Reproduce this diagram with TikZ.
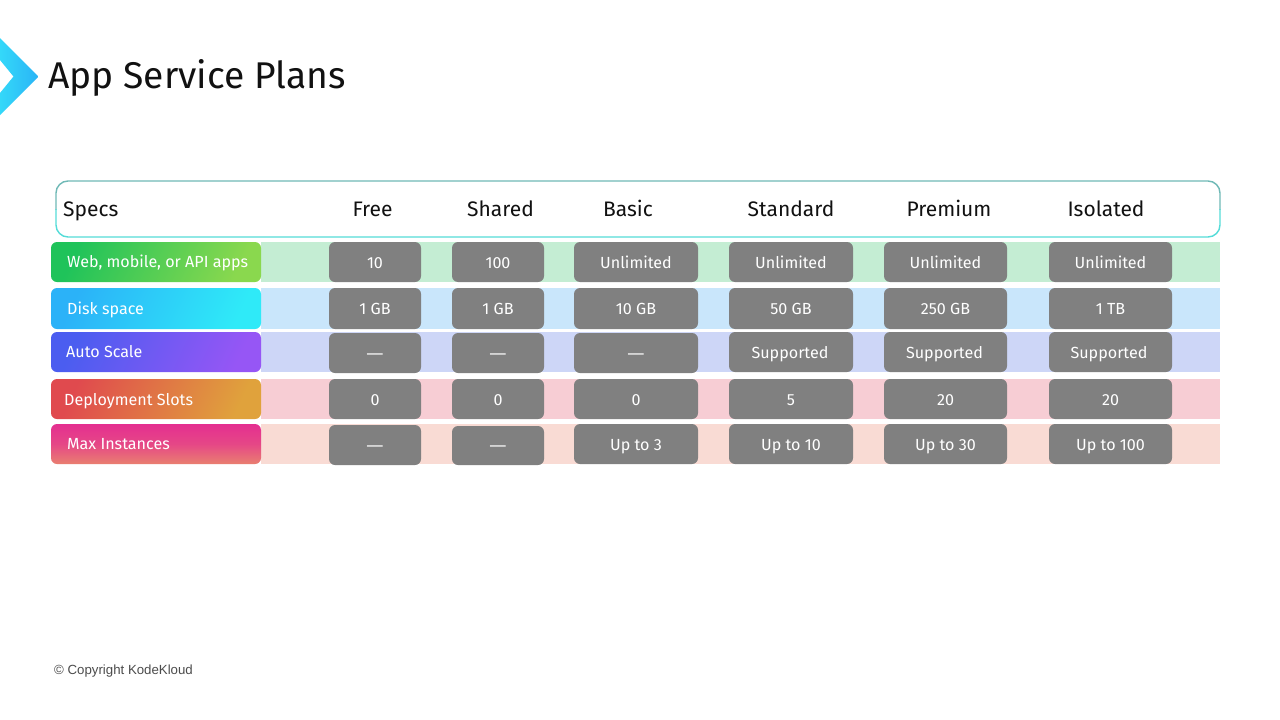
\documentclass[tikz,border=0pt]{standalone}
\usepackage{fontspec}
\setmainfont{Fira Sans}
\newfontfamily\arialfont{Liberation Sans}
\definecolor{cellgray}{HTML}{808080}
\definecolor{inktext}{HTML}{111111}
\definecolor{chevA}{HTML}{34D8F9}
\definecolor{chevB}{HTML}{2AB4F6}
\definecolor{headTop}{HTML}{6FB9B6}
\definecolor{headBot}{HTML}{55DCD8}
\tikzset{
  x=1pt,y=-1pt,
  bandbox/.style={inner sep=0pt,outer sep=0pt,draw=none},
  labelbox/.style={inner sep=0pt,outer sep=0pt,draw=none,rounded corners=6pt},
  cellbox/.style={inner sep=0pt,outer sep=0pt,draw=none,fill=cellgray,rounded corners=6pt,text=white,font=\fontsize{16.1}{18}\selectfont,text height=12pt,text depth=0pt},
  specText/.style={inner sep=0pt,anchor=base west,text=white,font=\fontsize{16.1}{18}\selectfont},
  headText/.style={inner sep=0pt,anchor=base,text=inktext,font=\fontsize{21}{24}\selectfont},
  headEdge/.style={line width=1.4pt,rounded corners=12pt},
}
\newcommand{\wdash}{\scalebox{1.35}[1]{—}}
\newcommand{\bandrow}[4]{% name y0 y1 fill
  \node[bandbox,fill=#4,minimum width=959pt,minimum height={(#3-#2)*1pt}] (#1) at (740.5,{(#2+#3)/2}) {};}
\newcommand{\labelrow}[4]{% name y0 y1 shading-options
  \node[labelbox,minimum width=210pt,minimum height={(#3-#2)*1pt},#4] (#1) at (156,{(#2+#3)/2}) {};}
\newcommand{\valcell}[6]{% name x0 x1 y0 y1 text
  \node[cellbox,minimum width={(#3-#2)*1pt},minimum height={(#5-#4)*1pt}] (#1) at ({(#2+#3)/2},{(#4+#5)/2}) {#6};}
\begin{document}
\begin{tikzpicture}
\useasboundingbox (0,0) rectangle (1280,720);
\fill[white] (0,0) rectangle (1280,720);
% chevron
\shade[left color=chevA,right color=chevB] (0,38) -- (38.5,76.5) -- (0,115) -- (0,93) -- (13.5,76.5) -- (0,60) -- cycle;
\node[inner sep=0pt,anchor=base west,text=inktext,font=\fontsize{37.2}{42}\selectfont] (title) at (48,88) {App Service Plans};
% header
\node[inner sep=0pt,outer sep=0pt,minimum width=1164pt,minimum height=56pt] (header) at (638,209) {};
\begin{scope}
  \clip (40,170) rectangle (1240,209);
  \draw[headEdge,draw=headTop] (header.north west) rectangle (header.south east);
\end{scope}
\begin{scope}
  \clip (40,209) rectangle (1240,250);
  \draw[headEdge,draw=headBot] (header.north west) rectangle (header.south east);
\end{scope}
\node[headText,anchor=base west] (hSpecs) at (63,216) {Specs};
\node[headText] (hFree) at (372.5,216) {Free};
\node[headText] (hShared) at (500.5,216) {Shared};
\node[headText] (hBasic) at (628,216) {Basic};
\node[headText] (hStandard) at (791,216) {Standard};
\node[headText] (hPremium) at (949,216) {Premium};
\node[headText] (hIsolated) at (1106,216) {Isolated};
% bands
\definecolor{bandA}{HTML}{C4EDD3}\definecolor{bandB}{HTML}{C9E6FB}\definecolor{bandC}{HTML}{CDD6F7}\definecolor{bandD}{HTML}{F7CDD4}\definecolor{bandE}{HTML}{F9DBD4}
\bandrow{b1}{242}{282}{bandA}
\bandrow{b2}{288}{329}{bandB}
\bandrow{b3}{332}{372}{bandC}
\bandrow{b4}{379}{419}{bandD}
\bandrow{b5}{424}{464}{bandE}
% labels
\definecolor{l1a}{HTML}{1FC35A}\definecolor{l1b}{HTML}{8AD84E}
\definecolor{l2a}{HTML}{2BB2F8}\definecolor{l2b}{HTML}{2FEAF8}
\definecolor{l3a}{HTML}{4B5DF0}\definecolor{l3b}{HTML}{9656F5}
\definecolor{l4a}{HTML}{E04A4E}\definecolor{l4b}{HTML}{E0A23C}
\definecolor{l5a}{HTML}{E42F90}\definecolor{l5b}{HTML}{E97F70}
\labelrow{l1}{242}{282}{left color=l1a,right color=l1b,shading angle=65}
\labelrow{l2}{288}{329}{left color=l2a,right color=l2b,shading angle=65}
\labelrow{l3}{332}{372}{left color=l3a,right color=l3b,shading angle=65}
\labelrow{l4}{379}{419}{left color=l4a,right color=l4b,shading angle=65}
\labelrow{l5}{424}{464}{top color=l5a,bottom color=l5b,middle color=l5a!70!l5b}
\node[specText] (t1) at (67,267.5) {Web, mobile, or API apps};
\node[specText] (t2) at (67,314) {Disk space};
\node[specText] (t3) at (66,357.5) {Auto Scale};
\node[specText] (t4) at (64,405) {Deployment Slots};
\node[specText] (t5) at (67,449.5) {Max Instances};
% row 1
\valcell{c11}{329}{421}{242}{282}{10}
\valcell{c12}{452}{544}{242}{282}{100}
\valcell{c13}{574}{698}{242}{282}{Unlimited}
\valcell{c14}{729}{853}{242}{282}{Unlimited}
\valcell{c15}{884}{1007}{242}{282}{Unlimited}
\valcell{c16}{1049}{1172}{242}{282}{Unlimited}
% row 2
\valcell{c21}{329}{421}{288}{329}{1 GB}
\valcell{c22}{452}{544}{288}{329}{1 GB}
\valcell{c23}{574}{698}{288}{329}{10 GB}
\valcell{c24}{729}{853}{288}{329}{50 GB}
\valcell{c25}{884}{1007}{288}{329}{250 GB}
\valcell{c26}{1049}{1172}{288}{329}{1 TB}
% row 3
\valcell{c31}{329}{421}{333}{373}{\wdash}
\valcell{c32}{452}{544}{333}{373}{\wdash}
\valcell{c33}{574}{698}{333}{373}{\wdash}
\valcell{c34}{729}{853}{332}{372}{Supported\hspace*{2pt}}
\valcell{c35}{884}{1007}{332}{372}{Supported\hspace*{2pt}}
\valcell{c36}{1049}{1172}{332}{372}{Supported\hspace*{3pt}}
% row 4
\valcell{c41}{329}{421}{379}{419}{0}
\valcell{c42}{452}{544}{379}{419}{0}
\valcell{c43}{574}{698}{379}{419}{0}
\valcell{c44}{729}{853}{379}{419}{5}
\valcell{c45}{884}{1007}{379}{419}{20}
\valcell{c46}{1049}{1172}{379}{419}{20}
% row 5
\valcell{c51}{329}{421}{425}{465}{\wdash}
\valcell{c52}{452}{544}{426}{465}{\wdash}
\valcell{c53}{574}{698}{424}{464}{Up to 3}
\valcell{c54}{729}{853}{424}{464}{Up to 10}
\valcell{c55}{884}{1007}{424}{464}{Up to 30}
\valcell{c56}{1049}{1172}{424}{464}{Up to 100}
\node[inner sep=0pt,anchor=base west,text=black!70,font=\arialfont\fontsize{13.25}{16}\selectfont] (copy) at (54,674) {© Copyright KodeKloud};
\end{tikzpicture}
\end{document}
